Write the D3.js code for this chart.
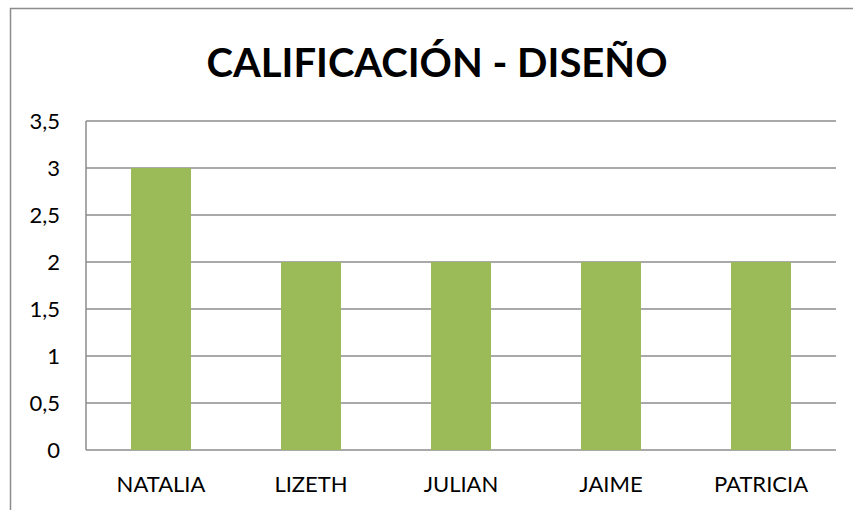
<!DOCTYPE html>
<html>
<head>
<meta charset="utf-8">
<script src="https://cdn.jsdelivr.net/npm/d3@7"></script>
<style>
  body { margin: 0; background: #fff; }
  text { font-family: Lato, "Open Sans", sans-serif; fill: #000; }
</style>
</head>
<body>
<div id="chart"></div>
<script>
const names = ['NATALIA', 'LIZETH', 'JULIAN', 'JAIME', 'PATRICIA'];
const scores = [3, 2, 2, 2, 2];
const yTicks = [0, 0.5, 1, 1.5, 2, 2.5, 3, 3.5];
const title = 'CALIFICACIÓN - DISEÑO';

const width = 853, height = 510;
const margin = { top: 121, right: 17, bottom: 60, left: 86 };

const svg = d3.select('#chart').append('svg')
    .attr('width', width)
    .attr('height', height);

// chart frame
svg.append('rect')
    .attr('x', 10.5).attr('y', 8.5)
    .attr('width', width).attr('height', height)
    .attr('fill', 'none')
    .attr('stroke', '#8c8c8c')
    .attr('stroke-width', 1.5);

const x = d3.scaleBand()
    .domain(names)
    .range([margin.left, width - margin.right])
    .paddingInner(0.6)
    .paddingOuter(0.3);

const y = d3.scaleLinear()
    .domain([0, 3.5])
    .range([height - margin.bottom, margin.top]);

// gridlines
svg.append('g')
    .selectAll('line')
    .data(yTicks)
    .enter().append('line')
    .attr('x1', margin.left)
    .attr('x2', width - margin.right)
    .attr('y1', d => y(d))
    .attr('y2', d => y(d))
    .attr('stroke', '#8c8c8c')
    .attr('stroke-width', 1.5);

// left axis line
svg.append('line')
    .attr('x1', margin.left).attr('x2', margin.left)
    .attr('y1', y(3.5)).attr('y2', y(0))
    .attr('stroke', '#8c8c8c')
    .attr('stroke-width', 1.5);

svg.append('g')
    .selectAll('rect')
    .data(scores)
    .enter().append('rect')
    .attr('x', (d, i) => x(names[i]))
    .attr('y', d => y(d))
    .attr('width', x.bandwidth())
    .attr('height', d => y(0) - y(d))
    .attr('fill', '#9bbb59');

// y tick labels
svg.append('g')
    .selectAll('text')
    .data(yTicks)
    .enter().append('text')
    .attr('x', margin.left - 26)
    .attr('y', d => y(d))
    .attr('dy', '0.36em')
    .attr('text-anchor', 'end')
    .style('font-size', '22px')
    .text(d => String(d).replace('.', ','));

// x labels
svg.append('g')
    .selectAll('text')
    .data(names)
    .enter().append('text')
    .attr('x', d => x(d) + x.bandwidth() / 2)
    .attr('y', y(0) + 42)
    .attr('text-anchor', 'middle')
    .style('font-size', '22px')
    .text(d => d);

svg.append('text')
    .attr('x', 437)
    .attr('y', 77)
    .attr('text-anchor', 'middle')
    .style('font-size', '40px')
    .style('font-weight', 'bold')
    .text(title);
</script>
</body>
</html>
